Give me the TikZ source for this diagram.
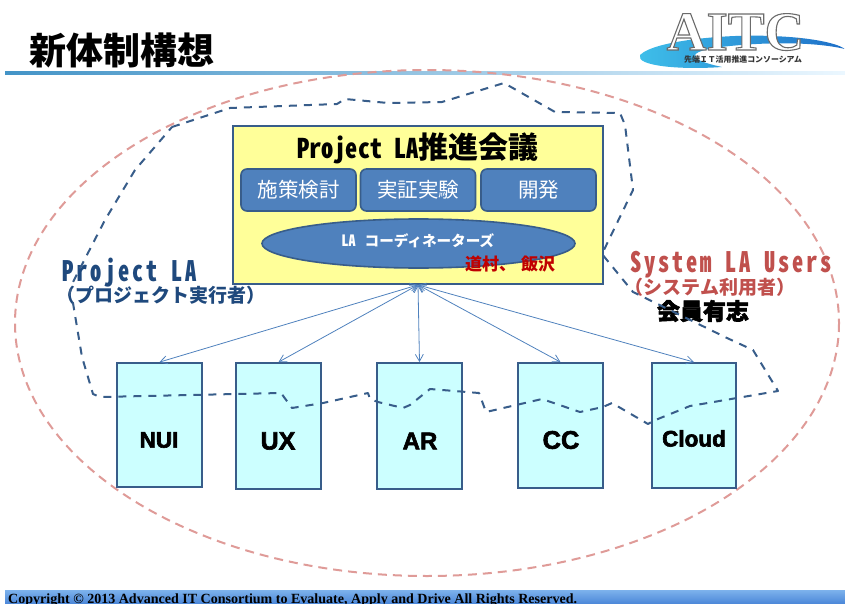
\documentclass[tikz,border=0pt]{standalone}
\usepackage{fontspec}
\usetikzlibrary{arrows.meta,shapes.geometric}
\setmainfont{Liberation Sans}
\newfontfamily\cjk{Noto Sans CJK JP}
\newfontfamily\narrowlat[RawFeature=+hwid,FakeStretch=0.8,LetterSpace=10]{Noto Sans CJK JP}
\newfontfamily\headlat[RawFeature=+hwid,FakeStretch=0.9]{Noto Sans CJK JP}
\newfontfamily\logoserif{Liberation Serif}
\newcommand{\fsz}[1]{\fontsize{#1}{#1}\selectfont}
\newcommand{\heavytext}[1]{\special{pdf:code 2 Tr 0.6 w}#1\special{pdf:code 0 Tr 1 w}}
\definecolor{bluefill}{HTML}{4F81BD}
\definecolor{blueedge}{HTML}{385D8A}
\definecolor{navy}{HTML}{1F497D}
\definecolor{pinkline}{HTML}{DF9B98}
\definecolor{redtext}{HTML}{C0504D}
\definecolor{darkred}{HTML}{C00000}
\definecolor{unitfill}{HTML}{CCFFFF}
\definecolor{councilfill}{HTML}{FFFF99}
\definecolor{footlight}{HTML}{7DB2EC}
\definecolor{footdark}{HTML}{4A86D8}
\definecolor{rulelight}{HTML}{CDEBFF}
\definecolor{swooshleft}{HTML}{3FC0EA}
\definecolor{swooshright}{HTML}{1E6FC8}
\tikzset{
 task/.style={draw=blueedge,line width=1.6pt,fill=bluefill,rounded corners=6pt,minimum width=115pt,minimum height=42pt,inner sep=0pt,text=white,font=\cjk\fsz{20.5}},
 unit/.style={draw=blueedge,line width=1.8pt,fill=unitfill,inner sep=0pt},
 unitlabel/.style={font=\bfseries\fsz{23},text=black},
 link/.style={draw=bluefill,line width=0.8pt,{Straight Barb[length=7pt,width=8pt]}-{Straight Barb[length=7pt,width=8pt]}},
 bluedash/.style={draw=blueedge,line width=2pt,dash pattern=on 8pt off 7pt},
 pinkdash/.style={draw=pinkline,line width=2pt,dash pattern=on 9pt off 6pt},
}
\begin{document}
\begin{tikzpicture}[x=1pt,y=-1pt]
\useasboundingbox (0,0) rectangle (845,604);
% header rule and footer
\shade[left color=bluefill!85!cyan,middle color=rulelight,right color=rulelight!40!white] (5,72) rectangle (845,75);
\shade[top color=footlight,bottom color=footdark] (5,590) rectangle (845,604);
\node[anchor=base west,inner sep=0pt,font=\logoserif\bfseries\fsz{14.03}] (copy) at (8,603) {Copyright © 2013 Advanced IT Consortium to Evaluate, Apply and Drive All Rights Reserved.};
% title
\node[anchor=center,inner sep=0pt,font=\cjk\bfseries\fsz{37}] (title) at (122,50) {新体制構想};
% logo
\shade[left color=swooshleft,right color=swooshright] (640,55) .. controls (655,40) and (730,34) .. (770,36) .. controls (805,37) and (835,42) .. (845,49) .. controls (815,42) and (770,42) .. (730,46) .. controls (690,50) and (680,58) .. (722,67) .. controls (680,70) and (635,66) .. (640,55) -- cycle;
\node[anchor=base,inner sep=0pt,font=\logoserif\bfseries\fsz{55},text=white] (aitc) at (735.5,50) {\special{pdf:code 2 Tr 1.1 w 0.42 0.42 0.42 RG}AITC\special{pdf:code 0 Tr 1 w}};
\node[anchor=center,inner sep=0pt,font=\cjk\bfseries\fsz{7.9},text=black!80] (logosub) at (743,59.5) {先端ＩＴ活用推進コンソーシアム};
% large ellipse
\draw[pinkdash] (427,323) ellipse [x radius=412,y radius=253];
% council box
\node[draw=blueedge,line width=1.8pt,fill=councilfill,minimum width=370pt,minimum height=158pt,inner sep=0pt] (council) at (418,205) {};
\node[inner sep=0pt] (counciltitle) at (418,148) {{\headlat\bfseries\fsz{27}Project LA}{\cjk\bfseries\fsz{30}推進会議}};
\node[task] (t1) at (298.5,190) {施策検討};
\node[task] (t2) at (418,190) {実証実験};
\node[task] (t3) at (538.5,190) {開発};
\node[ellipse,draw=blueedge,line width=1.6pt,fill=bluefill,minimum width=313pt,minimum height=49pt,inner sep=0pt] (coord) at (418.5,243.5) {};
\node[inner sep=0pt,text=white] (coordtext) at (418,241) {{\headlat\bfseries\fsz{15.5}LA}\hspace{9pt}{\cjk\bfseries\fsz{14.6}コーディネーターズ}};
\node[inner sep=0pt,text=darkred,font=\cjk\bfseries\fsz{17}] (names) at (510,264) {道村、\hspace{5pt}飯沢};
% units
\node[unit,minimum width=85pt,minimum height=124pt] (nui) at (159.5,425) {};
\node[unit,minimum width=85pt,minimum height=126pt] (ux) at (278.5,426) {};
\node[unit,minimum width=85pt,minimum height=126pt] (ar) at (419.5,426) {};
\node[unit,minimum width=85pt,minimum height=125pt] (cc) at (560.5,425.5) {};
\node[unit,minimum width=84pt,minimum height=125pt] (cloud) at (694,425.5) {};
\node[unitlabel,font=\bfseries\fsz{22.5}] (l1) at (159,440) {\heavytext{NUI}};
\node[unitlabel,font=\bfseries\fsz{25}] (l2) at (278,441) {\heavytext{UX}};
\node[unitlabel,font=\bfseries\fsz{24}] (l3) at (420,441) {\heavytext{AR}};
\node[unitlabel,font=\bfseries\fsz{25.5}] (l4) at (561,440) {\heavytext{CC}};
\node[unitlabel,font=\bfseries\fsz{22.5}] (l5) at (694,438.5) {\heavytext{Cloud}};
% links
\draw[link] (council.south) -- (nui.north);
\draw[link] (council.south) -- (ux.north);
\draw[link] (council.south) -- (ar.north);
\draw[link] (council.south) -- (cc.north);
\draw[link] (council.south) -- (cloud.north);
% outer labels
\node[inner sep=0pt,text=navy] (pla) at (130,272.5) {\narrowlat\bfseries\fsz{28}Project LA};
\node[inner sep=0pt,text=navy,font=\cjk\bfseries\fsz{19}] (plb) at (161,295) {（プロジェクト実行者）};
\node[inner sep=0pt,text=redtext] (sla) at (731,264.5) {\narrowlat\bfseries\fsz{28}System LA Users};
\node[inner sep=0pt,text=redtext,font=\cjk\bfseries\fsz{19}] (slb) at (710,287) {（システム利用者）};
\node[inner sep=0pt,text=black,font=\cjk\bfseries\fsz{23}] (members) at (703,311) {\heavytext{会員有志}};
% project boundary
\draw[bluedash,line join=round] (172,127) -- (230,108) -- (337,104) -- (345,99) -- (388,103) -- (442,102) -- (504,83) -- (555,112) -- (620,113) -- (625,125) -- (633,190) -- (602,254) -- (633,292) -- (727,338) -- (753,350) -- (778,391) -- (690,406) -- (653,421) -- (648,424) -- (612,403) -- (603,407) -- (580,412) -- (542,399) -- (486,412) -- (479,393) -- (430,389) -- (410,405) -- (403,408) -- (378,402) -- (370,399) -- (368,393) -- (323,403) -- (292,408) -- (281,393) -- (100,397) -- (93,394) -- (82,357) -- (73,303) -- (69,295) -- (73,282) -- (105,220) -- (135,170) -- cycle;
\end{tikzpicture}
\end{document}
